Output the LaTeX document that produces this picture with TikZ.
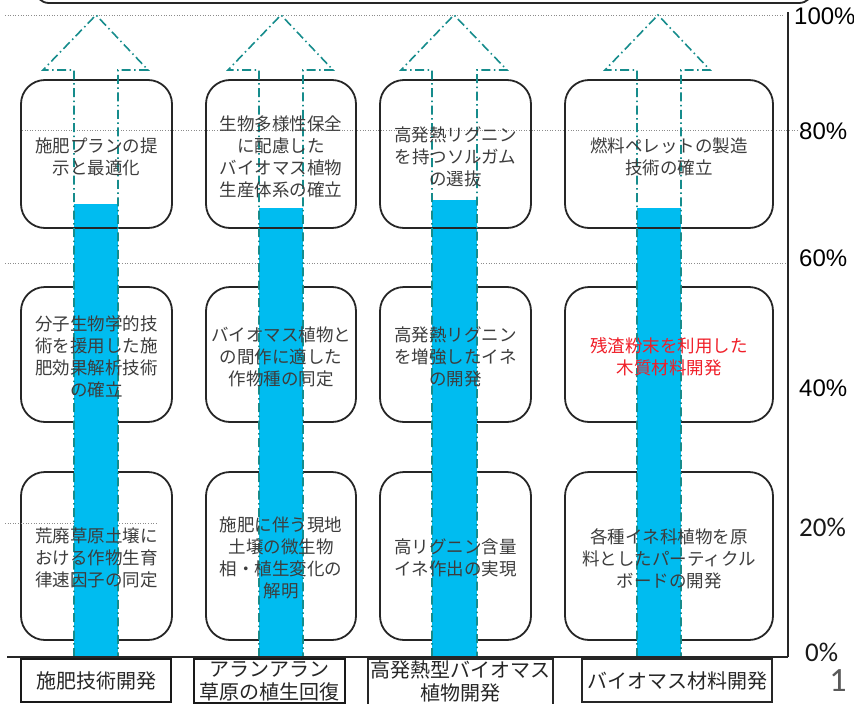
\documentclass[tikz,border=0pt]{standalone}
\usepackage{fontspec}
\setmainfont{Liberation Sans}
\newfontfamily\jpfont{Noto Sans CJK JP}
\newfontfamily\calfont{Carlito}
\definecolor{barc}{RGB}{0,188,240}
\definecolor{arrowc}{RGB}{22,140,140}
\definecolor{redt}{RGB}{240,30,40}
\begin{document}
\begin{tikzpicture}[x=1pt,y=-1pt]
\tikzset{
  rbox/.style={draw=black!85, line width=1.8pt, rounded corners=24pt, inner sep=0pt},
  wbox/.style={rbox, fill=white},
  barfill/.style={fill=barc, draw=none},
  arrowl/.style={draw=arrowc, line width=1.6pt, dash pattern=on 9pt off 3.5pt on 1.5pt off 3.5pt},
  gridl/.style={draw=black!45, line width=0.8pt, dash pattern=on 1pt off 1.6pt},
  jtext/.style={font=\jpfont\fontsize{17.5}{22}\selectfont, text=black!76, align=center, inner sep=0pt},
  redtext/.style={jtext, text=redt},
  labtext/.style={font=\jpfont\fontsize{20}{23}\selectfont, text=black!85, align=center, inner sep=0pt},
  pct/.style={font=\fontsize{24}{26}\selectfont, anchor=west, text=black, inner sep=0pt},
  cpct/.style={font=\calfont\fontsize{27}{29}\selectfont, anchor=west, text=black!90, inner sep=0pt},
}
\useasboundingbox (0,0) rectangle (854,704);
% grid lines
\draw[gridl] (5,15) -- (785,15);
\draw[gridl] (22,130) -- (797,130);
\draw[gridl] (5,263) -- (788,263);
% top frame
\draw[line width=1.8pt, draw=black!85, rounded corners=14pt] (35,-40) rectangle (813,3);
% row 2 and row 3 boxes
\node[wbox, minimum width=151pt, minimum height=135pt] (b21) at (96.5,354.5) {};
\node[wbox, minimum width=150pt, minimum height=135pt] (b22) at (281,354.5) {};
\node[wbox, minimum width=151pt, minimum height=135pt] (b23) at (455.5,354.5) {};
\node[wbox, minimum width=208pt, minimum height=135pt] (b24) at (669,354.5) {};
\node[wbox, minimum width=151pt, minimum height=168pt] (b31) at (96.5,556) {};
\node[wbox, minimum width=150pt, minimum height=168pt] (b32) at (281,556) {};
\node[wbox, minimum width=151pt, minimum height=168pt] (b33) at (455.5,556) {};
\node[wbox, minimum width=208pt, minimum height=168pt] (b34) at (669,556) {};
\draw[gridl] (5,523) -- (157,523);
% bars
\fill[barfill] (74,204) rectangle (118,657);
\fill[barfill] (259,208) rectangle (303,657);
\fill[barfill] (432,200) rectangle (477,657);
\fill[barfill] (637,208) rectangle (681,657);
% row 1 boxes
\node[rbox, minimum width=151pt, minimum height=148pt] (b11) at (96.5,154) {};
\node[rbox, minimum width=150pt, minimum height=148pt] (b12) at (281,154) {};
\node[rbox, minimum width=151pt, minimum height=148pt] (b13) at (455.5,154) {};
\node[rbox, minimum width=208pt, minimum height=148pt] (b14) at (669,154) {};
% arrows
\draw[arrowl] (74,657) -- (74,70) -- (43,70) -- (96,15) -- (148,70) -- (118,70) -- (118,657);
\draw[arrowl] (259,657) -- (259,70) -- (228,70) -- (281,15) -- (333,70) -- (303,70) -- (303,657);
\draw[arrowl] (432,657) -- (432,70) -- (401,70) -- (454,15) -- (507,70) -- (477,70) -- (477,657);
\draw[arrowl] (637,657) -- (637,70) -- (605,70) -- (658,15) -- (710,70) -- (681,70) -- (681,657);
% texts
\node[jtext] (t11) at ([yshift=-3pt]b11.center) {施肥プランの提\\示と最適化};
\node[jtext] (t12) at ([yshift=-3pt]b12.center) {生物多様性保全\\に配慮した\\バイオマス植物\\生産体系の確立};
\node[jtext] (t13) at ([yshift=-3pt]b13.center) {高発熱リグニン\\を持つソルガム\\の選抜};
\node[jtext] (t14) at ([yshift=-3pt]b14.center) {燃料ペレットの製造\\技術の確立};
\node[jtext] (t21) at ([yshift=-2.5pt]b21.center) {分子生物学的技\\術を援用した施\\肥効果解析技術\\の確立};
\node[jtext] (t22) at ([yshift=-2pt]b22.center) {バイオマス植物と\\の間作に適した\\作物種の同定};
\node[jtext] (t23) at ([yshift=-2pt]b23.center) {高発熱リグニン\\を増強したイネ\\の開発};
\node[redtext] (t24) at ([yshift=-2.5pt]b24.center) {残渣粉末を利用した\\木質材料開発};
\node[jtext] (t31) at ([yshift=-2pt]b31.center) {荒廃草原土壌に\\おける作物生育\\律速因子の同定};
\node[jtext] (t32) at ([yshift=-2pt]b32.center) {施肥に伴う現地\\土壌の微生物\\相・植生変化の\\解明};
\node[jtext] (t33) at ([yshift=-2pt]b33.center) {高リグニン含量\\イネ作出の実現};
\node[jtext] (t34) at ([yshift=-3pt]b34.center) {各種イネ科植物を原\\料としたパーティクル\\ボードの開発};
% axis
\draw[line width=1.4pt, black!85] (788,12) -- (788,657);
\draw[line width=1.5pt, black!85] (7,657) -- (788,657);
% bottom labels
\node[labtext, draw=black!90, line width=2pt, minimum width=150pt, minimum height=43pt] (l1) at (96,680.5) {施肥技術開発};
\node[labtext, draw=black!90, line width=1.6pt, minimum width=151pt, minimum height=44pt] (l2) at (269.5,681) {アランアラン\\草原の植生回復};
\node[labtext] (l3) at (460.5,681.5) {高発熱型バイオマス\\植物開発};
\draw[line width=1.3pt, black!85] (368,712) |- (553,659) -- (553,712);
\node[labtext, draw=black!85, line width=1.3pt, minimum width=190pt, minimum height=43pt] (l4) at (677,680.5) {バイオマス材料開発};
% percentages
\node[pct] (p100) at (794,16) {100\%};
\node[pct] (p80) at (799,131) {80\%};
\node[pct] (p60) at (799,258) {60\%};
\node[pct] (p40) at (799,388) {40\%};
\node[cpct] (p20) at (799,527) {20\%};
\node[cpct] (p0) at (805,652) {0\%};
\node[font=\calfont\fontsize{34}{36}\selectfont, text=black!65, inner sep=0pt] (pg) at (838,681) {1};
\end{tikzpicture}
\end{document}
